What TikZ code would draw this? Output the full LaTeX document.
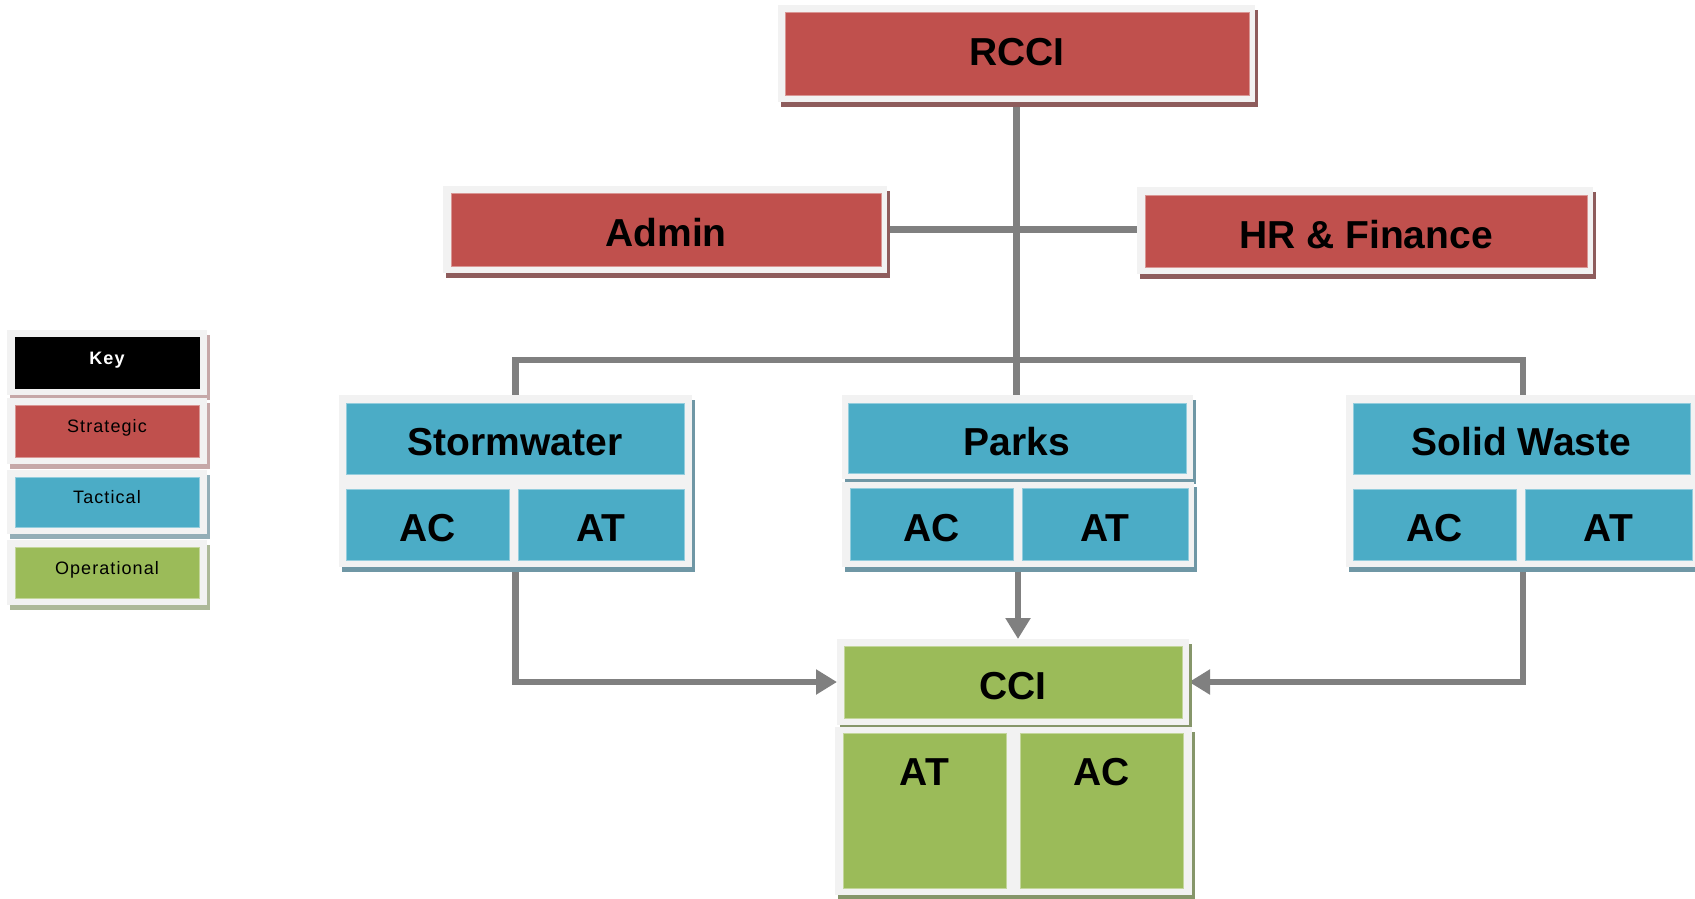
\documentclass[tikz,border=0pt]{standalone}
\usepackage{fontspec}
\setmainfont{Liberation Sans}
\newfontfamily\keyfont[LetterSpace=6]{Liberation Sans}
\usetikzlibrary{arrows.meta,shadows,backgrounds}

\definecolor{stratred}{HTML}{C0504D}
\definecolor{tactblue}{HTML}{4BACC6}
\definecolor{opergreen}{HTML}{9BBB59}
\definecolor{framegray}{HTML}{F2F2F2}
\definecolor{linegray}{HTML}{808080}
\definecolor{shred}{HTML}{8E5C5C}
\definecolor{shblue}{HTML}{6F97A5}
\definecolor{shgreen}{HTML}{86966A}
\definecolor{shredlt}{HTML}{C6A8A8}
\definecolor{shbluelt}{HTML}{93AEB7}
\definecolor{shgreenlt}{HTML}{ADB999}

\tikzset{
  boxframe/.style={rectangle, fill=framegray, inner sep=0pt, outer sep=0pt},
  boxshadow/.style={general shadow={fill=#1, shadow xshift=3pt, shadow yshift=-5pt}},
  cell/.style={rectangle, inner sep=0pt, outer sep=0pt, fill=#1, draw=#1!60!white, line width=0.8pt},
  biglabel/.style={font=\bfseries\fontsize{39pt}{39pt}\selectfont, text height=34pt, text depth=0pt},
  toplabel/.style={font=\bfseries\fontsize{39pt}{39pt}\selectfont, text height=28pt, text depth=0pt, inner sep=0pt},
  keylabel/.style={font=\keyfont\fontsize{18pt}{18pt}\selectfont, text height=3pt, text depth=0pt},
  conn/.style={draw=linegray, line width=6.5pt},
  arrowconn/.style={conn, -{Triangle[width=24pt,length=21pt]}},
}

\begin{document}
\begin{tikzpicture}[x=1pt,y=-1pt]
\useasboundingbox (0,0) rectangle (1695,898);
\clip (0,0) rectangle (1695,898);

% ---- frames (light surrounds with drop shadows) ----
\node[boxframe, boxshadow=shred, minimum width=477pt, minimum height=97pt] (rcciF) at (1016.5,53.5) {};
\node[boxframe, boxshadow=shred, minimum width=444pt, minimum height=87pt] (adminF) at (665,229.5) {};
\node[boxframe, boxshadow=shred, minimum width=456pt, minimum height=87pt] (hrF) at (1365,230.5) {};

\node[boxframe, boxshadow=shredlt, minimum width=200pt, minimum height=65pt] (keyF) at (107,362.5) {};
\node[boxframe, boxshadow=shredlt, minimum width=200pt, minimum height=66pt] (strF) at (107,431) {};
\node[boxframe, boxshadow=shbluelt, minimum width=200pt, minimum height=64pt] (tacF) at (107,502) {};
\node[boxframe, boxshadow=shgreenlt, minimum width=200pt, minimum height=65pt] (opF) at (107,572.5) {};

\node[boxframe, boxshadow=shblue, minimum width=353pt, minimum height=86pt] (stormF) at (515.5,438) {};
\node[boxframe, boxshadow=shblue, minimum width=353pt, minimum height=86pt] (stormLow) at (515.5,524) {};
\node[boxframe, boxshadow=shblue, minimum width=351pt, minimum height=84pt] (parksF) at (1017.5,437) {};
\node[boxframe, boxshadow=shblue, minimum width=352pt, minimum height=85pt] (parksLow) at (1018,524.5) {};
\node[boxframe, boxshadow=shblue, minimum width=354pt, minimum height=86pt] (solidF) at (1523,438) {};
\node[boxframe, boxshadow=shblue, minimum width=354pt, minimum height=86pt] (solidLow) at (1523,524) {};

\node[boxframe, boxshadow=shgreen, minimum width=352pt, minimum height=86pt] (cciF) at (1013,682) {};
\node[boxframe, boxshadow=shgreen, minimum width=178pt, minimum height=168pt] (cciATF) at (924,811) {};
\node[boxframe, boxshadow=shgreen, minimum width=179pt, minimum height=168pt] (cciACF) at (1102.5,811) {};

% ---- connectors, kept behind the boxes ----
\coordinate (bus) at (1017,360);
\begin{pgfonlayer}{background}
\fill[white] (0,0) rectangle (1695,898);
\draw[conn] (rcciF.south) -- (rcciF.south |- parksF.north);
\draw[conn] (adminF.east) -- (adminF.east -| hrF.west);
\draw[conn] (stormF.north) -- (stormF.north |- bus) -- (solidF.north |- bus) -- (solidF.north);
\draw[arrowconn] (stormLow.south) |- (cciF.west);
\draw[arrowconn] (solidLow.south) |- (cciF.east);
\draw[arrowconn] (parksLow.south) -- (parksLow.south |- cciF.north);
\end{pgfonlayer}

% ---- coloured cells with their labels ----
\node[cell=stratred, minimum width=464pt, minimum height=83pt, biglabel, text height=24pt] (rcci) at (1017,53.5) {RCCI};
\node[cell=stratred, minimum width=430pt, minimum height=73pt, biglabel] (admin) at (666,229.5) {Admin};
\node[cell=stratred, minimum width=442pt, minimum height=72pt, biglabel] (hr) at (1366,231) {HR \& Finance};

\node[cell=black, draw=black, minimum width=184pt, minimum height=51pt, keylabel, text=white, font=\keyfont\bfseries\fontsize{18pt}{18pt}\selectfont] (key) at (107,362.5) {Key};
\node[cell=stratred, minimum width=184pt, minimum height=52pt, keylabel] (strategic) at (107,431) {Strategic};
\node[cell=tactblue, minimum width=184pt, minimum height=50pt, keylabel] (tactical) at (107,502) {Tactical};
\node[cell=opergreen, minimum width=184pt, minimum height=51pt, keylabel] (operational) at (107,572.5) {Operational};

\node[cell=tactblue, minimum width=338pt, minimum height=71pt, biglabel] (storm) at (515,438.5) {Stormwater};
\node[cell=tactblue, minimum width=163pt, minimum height=71pt, biglabel] (stormAC) at (427.5,524.5) {AC};
\node[cell=tactblue, minimum width=166pt, minimum height=71pt, biglabel] (stormAT) at (601,524.5) {AT};

\node[cell=tactblue, minimum width=338pt, minimum height=70pt, biglabel] (parks) at (1017,438) {Parks};
\node[cell=tactblue, minimum width=163pt, minimum height=72pt, biglabel] (parksAC) at (931.5,524) {AC};
\node[cell=tactblue, minimum width=166pt, minimum height=72pt, biglabel] (parksAT) at (1105,524) {AT};

\node[cell=tactblue, minimum width=337pt, minimum height=71pt, biglabel] (solid) at (1521.5,438.5) {Solid Waste};
\node[cell=tactblue, minimum width=163pt, minimum height=71pt, biglabel] (solidAC) at (1434.5,524.5) {AC};
\node[cell=tactblue, minimum width=167pt, minimum height=71pt, biglabel] (solidAT) at (1608.5,524.5) {AT};

\node[cell=opergreen, minimum width=338pt, minimum height=72pt, biglabel] (cci) at (1013,682) {CCI};
\node[cell=opergreen, minimum width=163pt, minimum height=155pt,
      label={[toplabel, anchor=north, yshift=-24pt]north:AT}] (cciAT) at (924.5,810.5) {};
\node[cell=opergreen, minimum width=163pt, minimum height=155pt,
      label={[toplabel, anchor=north, yshift=-24pt]north:AC}] (cciAC) at (1101.5,810.5) {};
\end{tikzpicture}
\end{document}
